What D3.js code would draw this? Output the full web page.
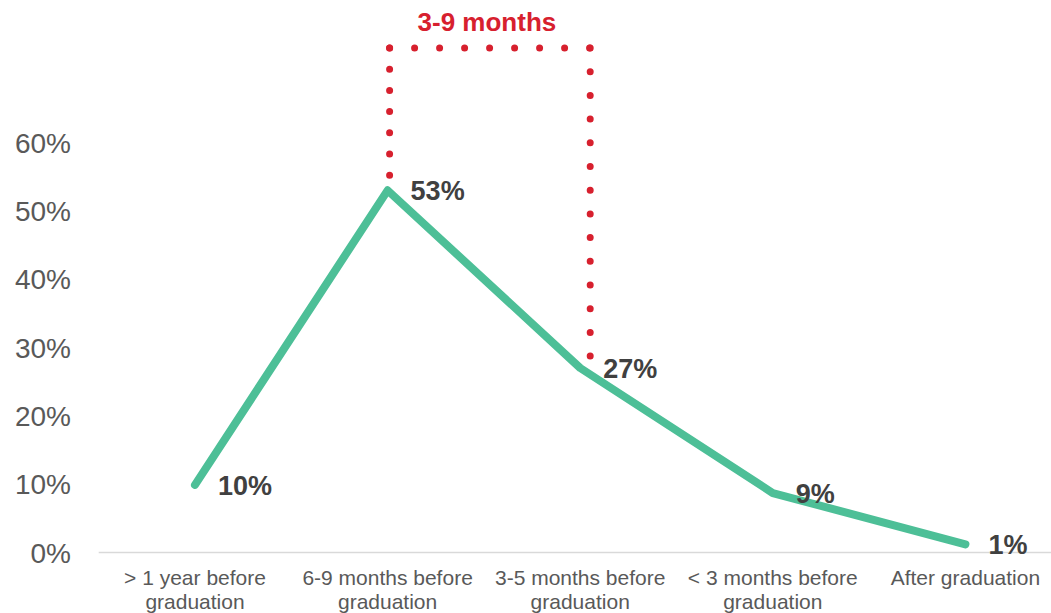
<!DOCTYPE html>
<html><head><meta charset="utf-8">
<script src="https://cdn.jsdelivr.net/npm/d3@7/dist/d3.min.js"></script>
<style>body{margin:0;background:#fff}svg{display:block;font-family:"Liberation Sans",Arial,sans-serif}</style>
</head><body><svg id="c" width="1051" height="613"></svg>
<script>
const categories = [["> 1 year before","graduation"],["6-9 months before","graduation"],["3-5 months before","graduation"],["< 3 months before","graduation"],["After graduation"]];
const values = [0.099, 0.53, 0.27, 0.087, 0.012];
const valueLabels = ["10%","53%","27%","9%","1%"];
const yTicks = [0,0.1,0.2,0.3,0.4,0.5,0.6];
const bracketText = "3-9 months";

const svg = d3.select("#c");
const keys = categories.map((c,i)=>i);
const x = d3.scaleBand().domain(keys).range([98.7,1061.7]);
const y = d3.scaleLinear().domain([0,0.6]).range([552.5,142.5]);
const cx = i => x(i)+x.bandwidth()/2;

// y tick labels
const yAxis = d3.axisLeft(y).tickValues(yTicks).tickFormat(d3.format(".0%")).tickSize(0).tickPadding(0);
const ga = svg.append("g").attr("transform","translate(71,0)").call(yAxis);
ga.select(".domain").remove();
ga.selectAll("text").attr("font-size",28).attr("fill","#595959").attr("font-family","Liberation Sans, Arial, sans-serif").attr("dy","0.35em");

// x axis line
svg.append("line").attr("x1",x.range()[0]).attr("x2",x.range()[1]).attr("y1",y(0)).attr("y2",y(0)).attr("stroke","#d9d9d9").attr("stroke-width",1.5);

// x labels
const xl = svg.append("g").selectAll("text").data(categories).join("text")
  .attr("x",(d,i)=>cx(i)).attr("y",585).attr("text-anchor","middle")
  .attr("font-size",21).attr("fill","#595959");
xl.each(function(d){
  const t=d3.select(this);
  d.forEach((s,j)=>t.append("tspan").attr("x",t.attr("x")).attr("dy",j?24:0).text(s));
});

// line
const line = d3.line().x((d,i)=>cx(i)).y(d=>y(d));
svg.append("path").datum(values).attr("d",line).attr("fill","none").attr("stroke","#4dbf97").attr("stroke-width",8).attr("stroke-linecap","round").attr("stroke-linejoin","round");

// data labels
svg.append("g").selectAll("text").data(values).join("text")
  .attr("x",(d,i)=>cx(i)+23).attr("y",d=>y(d)).attr("dy","0.36em")
  .attr("font-size",27).attr("font-weight","bold").attr("fill","#404040")
  .text((d,i)=>valueLabels[i]);

// bracket (three segments, each starting at a corner)
const lx = cx(1)+2, rx = cx(2)+10, ty = 48;
const segs = [
  [[lx,ty],[lx,y(values[1])-13], 21.2],
  [[lx,ty],[rx,ty], 25],
  [[rx,ty],[rx,y(values[2])-9], 23.7]
];
svg.append("g").selectAll("path").data(segs).join("path")
  .attr("d",d=>`M${d[0][0]},${d[0][1]}L${d[1][0]},${d[1][1]}`)
  .attr("fill","none").attr("stroke","#d7202e").attr("stroke-width",7).attr("stroke-linecap","round")
  .attr("stroke-dasharray",d=>`0 ${d[2]}`);
svg.append("text").attr("x",(lx+rx)/2-3).attr("y",31).attr("text-anchor","middle").attr("font-size",26).attr("font-weight","bold").attr("fill","#d7202e").text(bracketText);
</script></body></html>
